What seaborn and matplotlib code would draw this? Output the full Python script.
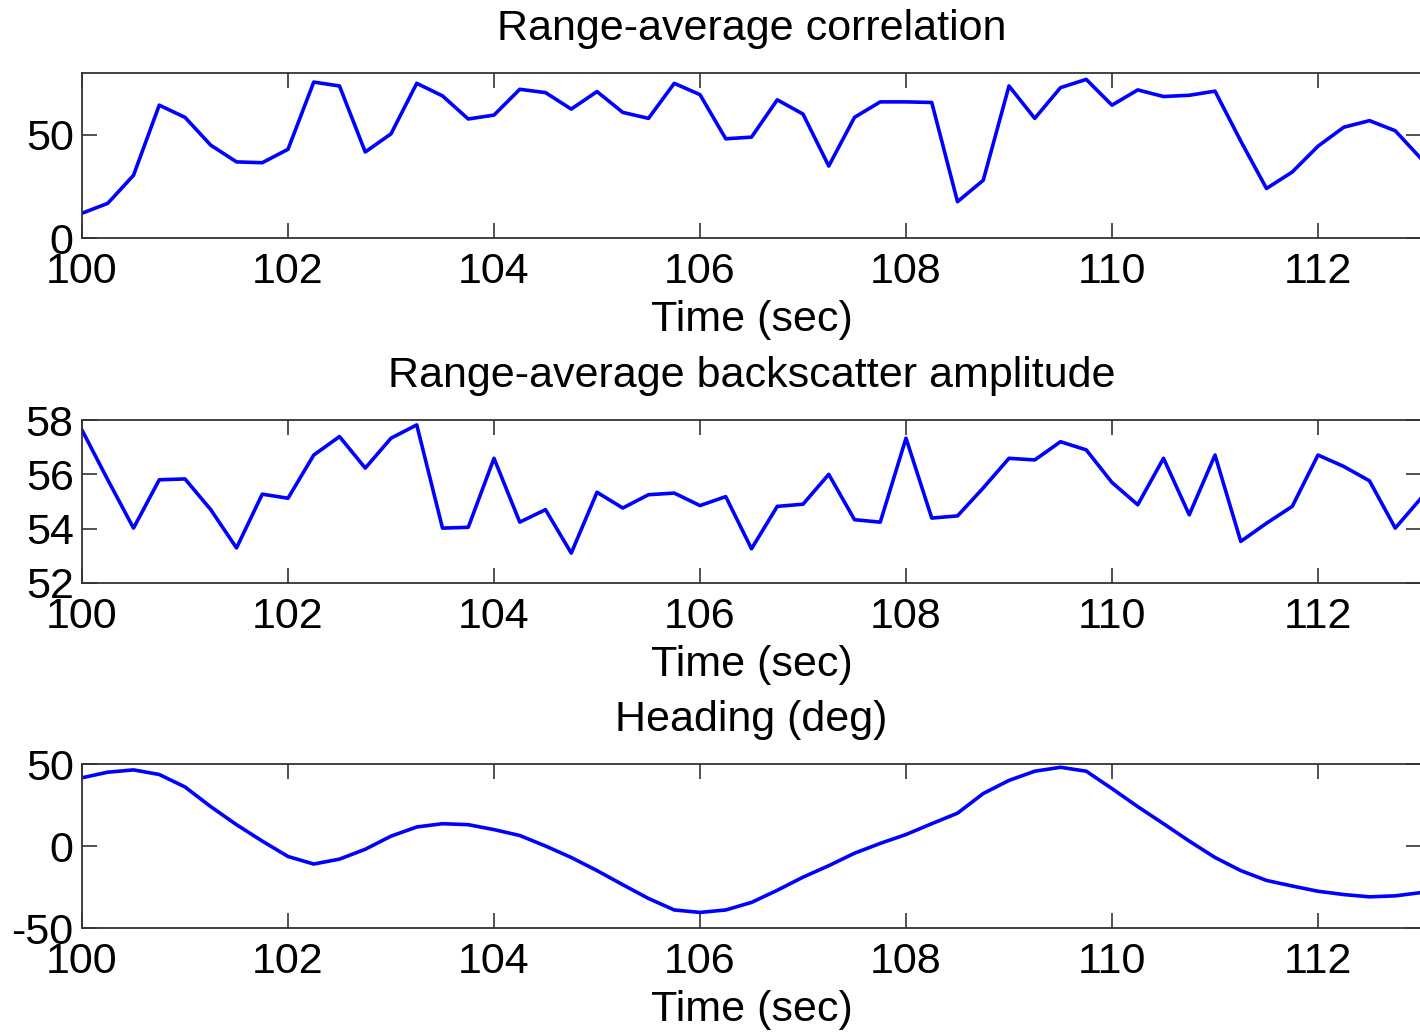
import numpy as np
import pandas as pd
import matplotlib
matplotlib.use("Agg")
import matplotlib.pyplot as plt
import seaborn as sns

# ---- data ----
time_sec = [100 + 0.25 * i for i in range(53)]

correlation = [12, 16.8, 30.4, 64.4, 58.5, 45, 36.9, 36.5, 43, 75.6,
               73.7, 41.7, 50.5, 75, 68.9, 57.7, 59.6, 72.1, 70.5, 62.5,
               71, 60.9, 58, 75, 69.5, 48.1, 48.9, 67, 60.1, 34.9,
               58.5, 66, 66, 65.7, 17.6, 28, 73.7, 58, 72.9, 76.9,
               64.4, 71.8, 68.6, 69.2, 71.2, 47, 24, 32, 44.5, 53.7,
               56.9, 52, 38.5]

backscatter = [57.63, 55.8, 54.02, 55.8, 55.83, 54.7, 53.29, 55.27, 55.12, 56.71,
               57.39, 56.23, 57.33, 57.82, 54.02, 54.05, 56.59, 54.24, 54.7, 53.1,
               55.34, 54.76, 55.25, 55.31, 54.85, 55.18, 53.26, 54.82, 54.9, 56.0,
               54.33, 54.24, 57.33, 54.39, 54.47, 55.5, 56.59, 56.53, 57.2, 56.9,
               55.7, 54.88, 56.59, 54.51, 56.71, 53.53, 54.2, 54.82, 56.71, 56.29,
               55.76, 54.02, 55.12]

heading = [41.6, 45, 46.4, 43.6, 36, 24, 13, 3, -6.4, -11,
           -8, -2, 6, 11.6, 13.6, 13, 10, 6.4, 0, -7,
           -15, -23.6, -32, -39, -40.5, -39, -34.4, -27, -19, -12,
           -4.4, 1.6, 7, 13.6, 20, 32, 40, 45.6, 48, 45.6,
           35, 24, 13.6, 3, -7, -15, -21, -24.4, -27.6, -29.6,
           -31, -30.4, -28.4]

titles = ["Range-average correlation", "Range-average backscatter amplitude", "Heading (deg)"]
ylims = [(0, 80), (52, 58), (-50, 50)]
yticks = [[0, 50], [52, 54, 56, 58], [-50, 0, 50]]
xticks = [100, 102, 104, 106, 108, 110, 112]

sns.set_theme(style="ticks")
plt.rcParams['font.family'] = ['Liberation Sans', 'DejaVu Sans']

W, H = 1420, 1034
fig = plt.figure(figsize=(W / 100, H / 100), dpi=100)

# axes boxes in pixel coordinates (left, top, right, bottom)
boxes = [(82, 73, 1421, 238), (82, 420, 1421, 583), (82, 764, 1421, 928)]
series = [correlation, backscatter, heading]

for (l, t, r, b), y, title, yl, yt in zip(boxes, series, titles, ylims, yticks):
    ax = fig.add_axes([l / W, 1 - b / H, (r - l) / W, (b - t) / H])
    df = pd.DataFrame({"t": time_sec, "v": y})
    sns.lineplot(data=df, x="t", y="v", ax=ax, color=(0, 0, 1), linewidth=2.6)
    ax.set_xlim(100, 113)
    ax.set_ylim(*yl)
    ax.set_xticks(xticks)
    ax.set_yticks(yt)
    ax.set_xticklabels([str(v) for v in xticks])
    ax.set_yticklabels([str(v) for v in yt])
    ax.tick_params(direction="in", length=11, width=1.2, color="#333333",
                   top=True, right=True, labelsize=31, labelcolor="black")
    ax.tick_params(axis="x", pad=10)
    ax.tick_params(axis="y", pad=6)
    for s in ax.spines.values():
        s.set_linewidth(1.3)
        s.set_color("#333333")
        s.set_visible(True)
    ax.set_xlabel("Time (sec)", fontsize=31, labelpad=6, color="black")
    ax.set_ylabel("")
    ax.set_title(title, fontsize=31, pad=24, color="black")
    ax.grid(False)
    ax.set_facecolor("white")

fig.patch.set_facecolor("white")
fig.savefig("out.png", dpi=100, facecolor="white")
